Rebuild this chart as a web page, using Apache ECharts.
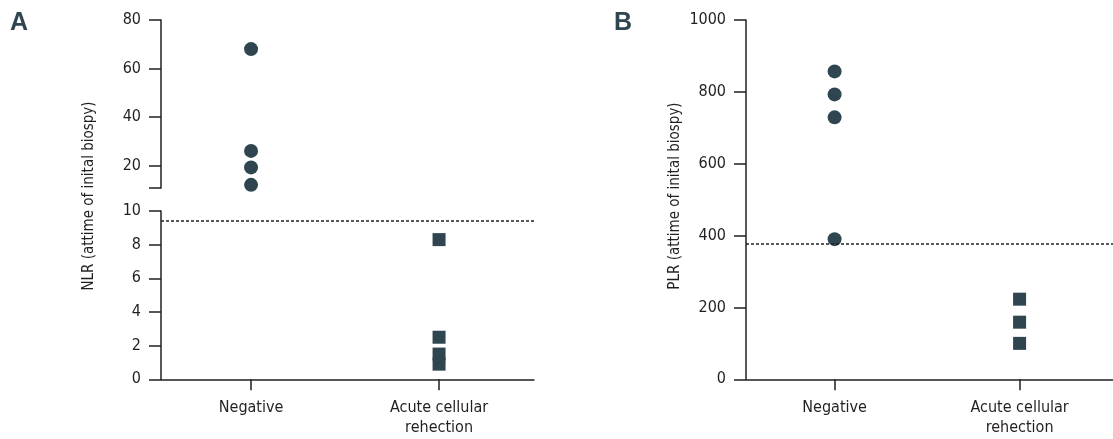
<!DOCTYPE html>
<html>
<head>
<meta charset="utf-8">
<script src="https://cdn.jsdelivr.net/npm/echarts@6/dist/echarts.min.js"></script>
<style>
html,body{margin:0;padding:0;background:#fff;}
#chart{width:1113px;height:439px;}
</style>
</head>
<body>
<div id="chart"></div>
<script>
// ---- data ----
const categories = ['Negative', 'Acute cellular\nrehection'];
const nlrNegative = [68, 26, 19.2, 12];
const nlrAcute = [8.3, 2.5, 1.5, 0.9];
const nlrCutoff = 9.42;
const plrNegative = [857, 793, 729, 390];
const plrAcute = [223, 159, 100];
const plrCutoff = 377;
const nlrUpperLabels = [20, 40, 60, 80];
const nlrUpperRange = [10.7, 80];
const nlrLowerRange = [0, 10];
const plrRange = [0, 1000];
const panelLabels = ['A', 'B'];
const yNames = ['NLR (attime of inital biospy)', 'PLR (attime of inital biospy)'];

// ---- style ----
const FONT = "'Liberation Sans Narrow', 'DejaVu Sans Condensed', 'Noto Sans', sans-serif";
const TXT = '#231f20';
const AX = '#231f20';
const MARK = '#2f4650';
const FS = 16;

const chart = echarts.init(document.getElementById('chart'), null, {renderer: 'canvas'});

const xMin = -0.479, xMax = 1.505;
const gridW = 373;

function xAxisDef(gi, show) {
  return {
    type: 'value', gridIndex: gi, min: xMin, max: xMax, show: show,
    splitLine: {show: false},
    axisLine: {show: true, onZero: false, lineStyle: {color: AX, width: 1.5}},
    axisTick: {show: true, length: 11, lineStyle: {color: AX, width: 1.5}, customValues: [0, 1]},
    axisLabel: {
      customValues: [0, 1], margin: 19, fontFamily: FONT, fontSize: FS, color: TXT, lineHeight: 20,
      formatter: v => categories[Math.round(v)]
    }
  };
}
function yAxisBase(gi) {
  return {
    type: 'value', gridIndex: gi, splitLine: {show: false},
    axisLine: {show: true, onZero: false, lineStyle: {color: AX, width: 1.5}},
    axisTick: {show: true, length: 12, lineStyle: {color: AX, width: 1.5}},
    axisLabel: {margin: 20, fontFamily: FONT, fontSize: FS, color: TXT, formatter: v => String(v)}
  };
}

const yUpper = yAxisBase(0);
yUpper.min = nlrUpperRange[0]; yUpper.max = nlrUpperRange[1];
yUpper.axisTick.customValues = [nlrUpperRange[0]].concat(nlrUpperLabels);
yUpper.axisLabel.customValues = nlrUpperLabels;

const yLower = yAxisBase(1);
yLower.min = nlrLowerRange[0]; yLower.max = nlrLowerRange[1]; yLower.interval = 2;

const yB = yAxisBase(2);
yB.min = plrRange[0]; yB.max = plrRange[1]; yB.interval = 200;

const circle = {symbol: 'circle', symbolSize: 14, itemStyle: {color: MARK, opacity: 1}};
const square = {symbol: 'rect', symbolSize: 13, itemStyle: {color: MARK, opacity: 1}};
const dashed = v => ({
  silent: true, symbol: ['none', 'none'], label: {show: false}, animation: false,
  lineStyle: {color: '#222', width: 1.5, type: [3, 2], opacity: 1},
  data: [{yAxis: v}]
});

const upperNeg = nlrNegative.filter(v => v >= nlrUpperRange[0]).map(v => [0, v]);
const lowerNeg = nlrNegative.filter(v => v < nlrUpperRange[0]).map(v => [0, v]);
const upperAcr = nlrAcute.filter(v => v >= nlrUpperRange[0]).map(v => [1, v]);
const lowerAcr = nlrAcute.filter(v => v < nlrUpperRange[0]).map(v => [1, v]);

const option = {
  animation: false,
  backgroundColor: '#fff',
  grid: [
    {left: 161, top: 20, width: gridW, height: 168},
    {left: 161, top: 211, width: gridW, height: 168.3},
    {left: 746, top: 20, width: gridW, height: 359.3}
  ],
  xAxis: [xAxisDef(0, false), xAxisDef(1, true), xAxisDef(2, true)],
  yAxis: [yUpper, yLower, yB],
  series: [
    Object.assign({type: 'scatter', xAxisIndex: 0, yAxisIndex: 0, data: upperNeg}, circle),
    Object.assign({type: 'scatter', xAxisIndex: 0, yAxisIndex: 0, data: upperAcr}, square),
    Object.assign({type: 'scatter', xAxisIndex: 1, yAxisIndex: 1, data: lowerNeg}, circle),
    Object.assign({type: 'scatter', xAxisIndex: 1, yAxisIndex: 1, data: lowerAcr, markLine: dashed(nlrCutoff)}, square),
    Object.assign({type: 'scatter', xAxisIndex: 2, yAxisIndex: 2, data: plrNegative.map(v => [0, v]), markLine: dashed(plrCutoff)}, circle),
    Object.assign({type: 'scatter', xAxisIndex: 2, yAxisIndex: 2, data: plrAcute.map(v => [1, v])}, square)
  ],
  graphic: [
    {type: 'text', x: 10, y: 11, style: {text: panelLabels[0], fontFamily: "'Liberation Sans', sans-serif", fontWeight: 'bold', fontSize: 25, fill: MARK}},
    {type: 'text', x: 614, y: 11, style: {text: panelLabels[1], fontFamily: "'Liberation Sans', sans-serif", fontWeight: 'bold', fontSize: 25, fill: MARK}},
    {type: 'text', x: 89, y: 196, rotation: Math.PI / 2, style: {text: yNames[0], fontFamily: FONT, fontSize: 15, fill: TXT, align: 'center', verticalAlign: 'middle'}},
    {type: 'text', x: 675, y: 196, rotation: Math.PI / 2, style: {text: yNames[1], fontFamily: FONT, fontSize: 15, fill: TXT, align: 'center', verticalAlign: 'middle'}}
  ]
};
chart.setOption(option);
</script>
</body>
</html>
